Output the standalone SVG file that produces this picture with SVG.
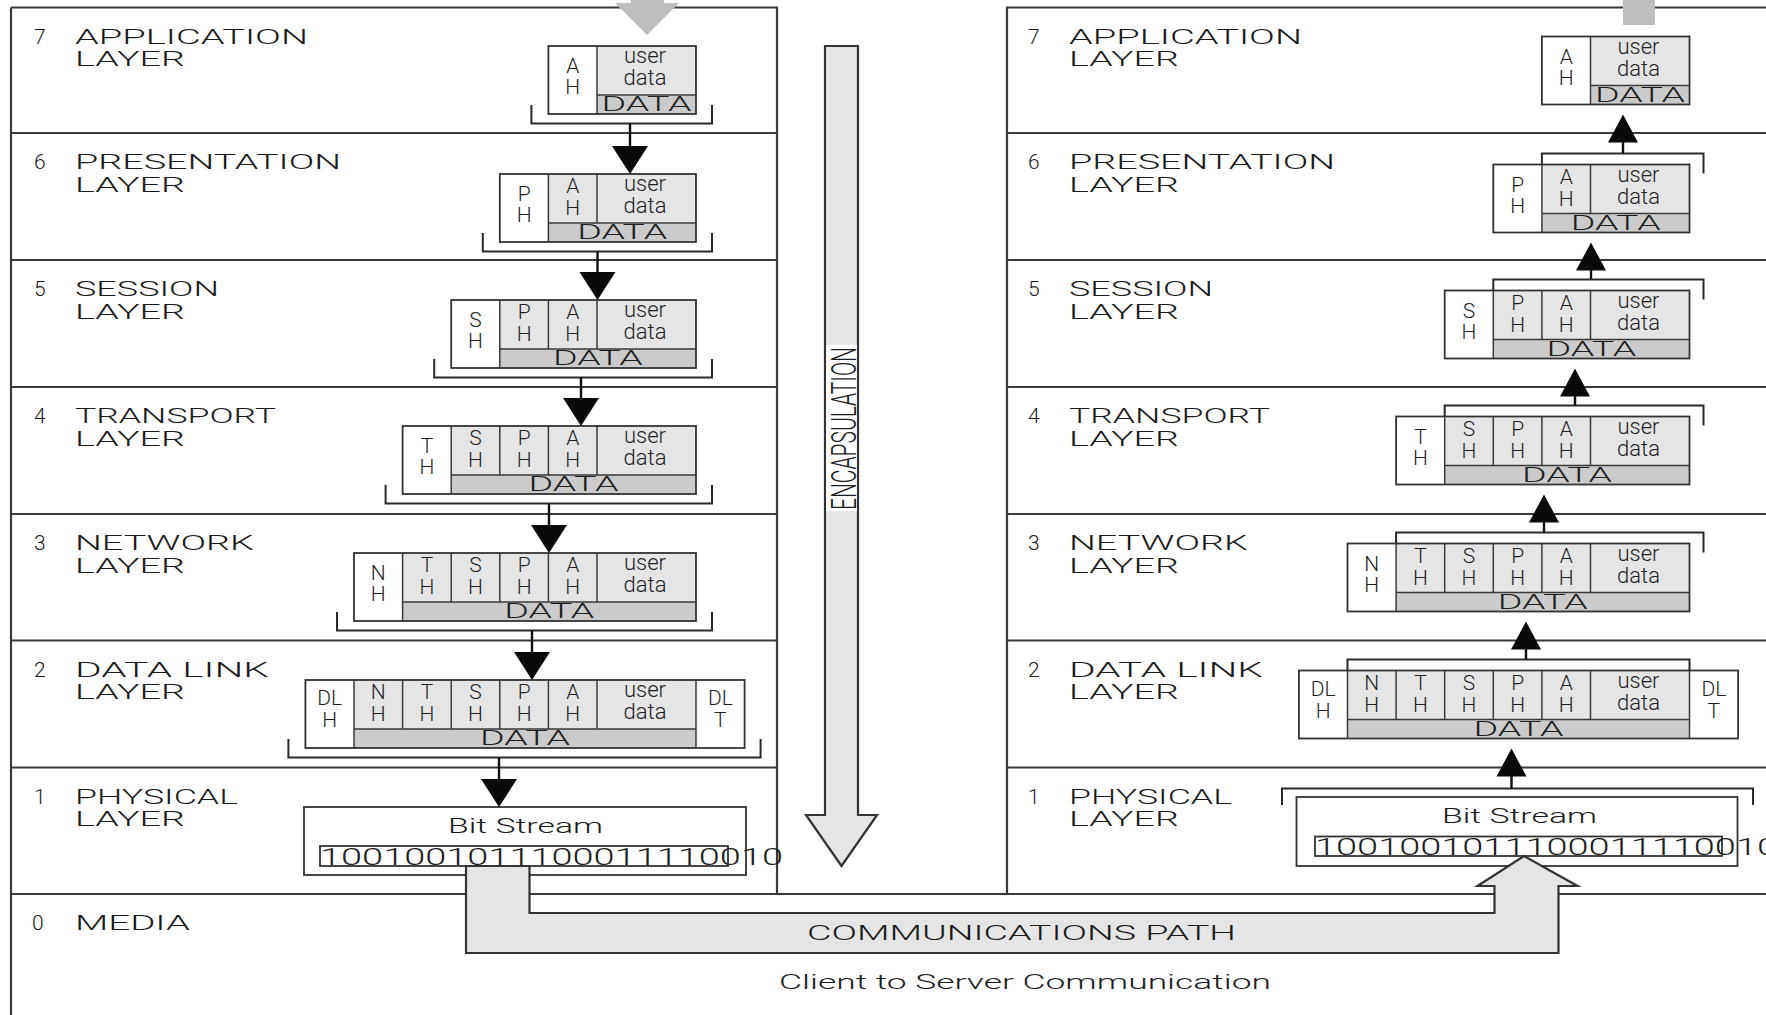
<svg xmlns="http://www.w3.org/2000/svg" width="1766" height="1015" viewBox="0 0 1766 1015">
<defs>
<style>
.frame{fill:none;stroke:#3a3a3a;stroke-width:2.2}
.wh{fill:#ffffff}
.lt{fill:#e5e5e5}
.dk{fill:#cbcbcb}
.cell{fill:none;stroke:#3a3a3a;stroke-width:1.5}
.box{fill:none;stroke:#333333;stroke-width:1.8}
.br{fill:none;stroke:#2a2a2a;stroke-width:2}
.stem{fill:none;stroke:#111111;stroke-width:2.4}
.head{fill:#0a0a0a}
.pipe{fill:#e5e5e5;stroke:#333333;stroke-width:2.2}
.gray{fill:#bdbdbd}
text{font-family:Roboto,"DejaVu Sans","Liberation Sans",sans-serif;font-weight:300;fill:#1e1e1e}
.lbl{font-size:21px;fill:#1a1a1a}
.hd{font-size:21px;text-anchor:middle}
.ud{font-size:22px;text-anchor:middle}
.dt{font-size:20px;text-anchor:middle}
.bits{font-size:24px}
</style>
</defs>
<rect width="1766" height="1015" fill="#ffffff"/>

<!-- client stack frame -->
<g id="client-frame">
<path class="frame" d="M11 7.5V1015M11 7.5H777V894M11 133H777M11 260H777M11 387H777M11 514H777M11 640.5H777M11 767.5H777M11 894H1766"/>
</g>
<!-- server stack frame -->
<g id="server-frame">
<path class="frame" d="M1007 894V7.5H1766M1007 133H1766M1007 260H1766M1007 387H1766M1007 514H1766M1007 640.5H1766M1007 767.5H1766"/>
</g>

<!-- incoming / outgoing flow stubs at the top edge -->
<g id="flow-in">
<polygon class="gray" points="631,-6 664,-6 664,3 679,3 647,35 615,3 631,3"/>
</g>
<g id="flow-out">
<rect class="gray" x="1623" y="0" width="32" height="25"/>
</g>

<!-- ===== client side ===== -->
<g id="client-l7">
<text class="lbl" x="34" y="43.5">7</text>
<text class="lbl" x="75" y="43.5" textLength="233" lengthAdjust="spacingAndGlyphs">APPLICATION</text>
<text class="lbl" x="75" y="66" textLength="110" lengthAdjust="spacingAndGlyphs">LAYER</text>
<rect class="wh" x="548.4" y="46" width="147.6" height="68"/>
<rect class="lt" x="597" y="46" width="99" height="49"/>
<rect class="dk" x="597" y="95" width="99" height="19"/>
<path class="cell" d="M597 46V114M597 95H696"/>
<rect class="box" x="548.4" y="46" width="147.6" height="68"/>
<text class="hd" x="572.7" y="73">A<tspan x="572.7" dy="21">H</tspan></text>
<text class="ud" x="645" y="63">user<tspan x="645" dy="22">data</tspan></text>
<text class="dt" x="646.5" y="111" textLength="90" lengthAdjust="spacingAndGlyphs">DATA</text>
<path class="br" d="M531.4 105V123.5H712V105"/>
</g>

<g id="client-l6">
<text class="lbl" x="34" y="169">6</text>
<text class="lbl" x="75" y="169" textLength="266" lengthAdjust="spacingAndGlyphs">PRESENTATION</text>
<text class="lbl" x="75" y="191.5" textLength="110" lengthAdjust="spacingAndGlyphs">LAYER</text>
<rect class="wh" x="499.8" y="174" width="196.2" height="68"/>
<rect class="lt" x="548.4" y="174" width="147.6" height="49"/>
<rect class="dk" x="548.4" y="223" width="147.6" height="19"/>
<path class="cell" d="M548.4 174V242M597 174V223M548.4 223H696"/>
<rect class="box" x="499.8" y="174" width="196.2" height="68"/>
<text class="hd" x="524.1" y="201">P<tspan x="524.1" dy="21">H</tspan></text>
<text class="hd" x="572.7" y="193">A<tspan x="572.7" dy="22">H</tspan></text>
<text class="ud" x="645" y="191">user<tspan x="645" dy="22">data</tspan></text>
<text class="dt" x="622.2" y="239" textLength="90" lengthAdjust="spacingAndGlyphs">DATA</text>
<path class="br" d="M482.8 233V251.5H712V233"/>
</g>

<g id="client-l5">
<text class="lbl" x="34" y="296">5</text>
<text class="lbl" x="75" y="296" textLength="144" lengthAdjust="spacingAndGlyphs">SESSION</text>
<text class="lbl" x="75" y="318.5" textLength="110" lengthAdjust="spacingAndGlyphs">LAYER</text>
<rect class="wh" x="451.2" y="300" width="244.8" height="68"/>
<rect class="lt" x="499.8" y="300" width="196.2" height="49"/>
<rect class="dk" x="499.8" y="349" width="196.2" height="19"/>
<path class="cell" d="M499.8 300V368M548.4 300V349M597 300V349M499.8 349H696"/>
<rect class="box" x="451.2" y="300" width="244.8" height="68"/>
<text class="hd" x="475.5" y="327">S<tspan x="475.5" dy="21">H</tspan></text>
<text class="hd" x="524.1" y="319">P<tspan x="524.1" dy="22">H</tspan></text>
<text class="hd" x="572.7" y="319">A<tspan x="572.7" dy="22">H</tspan></text>
<text class="ud" x="645" y="317">user<tspan x="645" dy="22">data</tspan></text>
<text class="dt" x="597.9" y="365" textLength="90" lengthAdjust="spacingAndGlyphs">DATA</text>
<path class="br" d="M434.2 359V377.5H712V359"/>
</g>

<g id="client-l4">
<text class="lbl" x="34" y="423">4</text>
<text class="lbl" x="75" y="423" textLength="201" lengthAdjust="spacingAndGlyphs">TRANSPORT</text>
<text class="lbl" x="75" y="445.5" textLength="110" lengthAdjust="spacingAndGlyphs">LAYER</text>
<rect class="wh" x="402.6" y="426" width="293.4" height="68"/>
<rect class="lt" x="451.2" y="426" width="244.8" height="49"/>
<rect class="dk" x="451.2" y="475" width="244.8" height="19"/>
<path class="cell" d="M451.2 426V494M499.8 426V475M548.4 426V475M597 426V475M451.2 475H696"/>
<rect class="box" x="402.6" y="426" width="293.4" height="68"/>
<text class="hd" x="426.9" y="453">T<tspan x="426.9" dy="21">H</tspan></text>
<text class="hd" x="475.5" y="445">S<tspan x="475.5" dy="22">H</tspan></text>
<text class="hd" x="524.1" y="445">P<tspan x="524.1" dy="22">H</tspan></text>
<text class="hd" x="572.7" y="445">A<tspan x="572.7" dy="22">H</tspan></text>
<text class="ud" x="645" y="443">user<tspan x="645" dy="22">data</tspan></text>
<text class="dt" x="573.6" y="491" textLength="90" lengthAdjust="spacingAndGlyphs">DATA</text>
<path class="br" d="M385.6 485V503.5H712V485"/>
</g>

<g id="client-l3">
<text class="lbl" x="34" y="550">3</text>
<text class="lbl" x="75" y="550" textLength="179" lengthAdjust="spacingAndGlyphs">NETWORK</text>
<text class="lbl" x="75" y="572.5" textLength="110" lengthAdjust="spacingAndGlyphs">LAYER</text>
<rect class="wh" x="354" y="553" width="342" height="68"/>
<rect class="lt" x="402.6" y="553" width="293.4" height="49"/>
<rect class="dk" x="402.6" y="602" width="293.4" height="19"/>
<path class="cell" d="M402.6 553V621M451.2 553V602M499.8 553V602M548.4 553V602M597 553V602M402.6 602H696"/>
<rect class="box" x="354" y="553" width="342" height="68"/>
<text class="hd" x="378.3" y="580">N<tspan x="378.3" dy="21">H</tspan></text>
<text class="hd" x="426.9" y="572">T<tspan x="426.9" dy="22">H</tspan></text>
<text class="hd" x="475.5" y="572">S<tspan x="475.5" dy="22">H</tspan></text>
<text class="hd" x="524.1" y="572">P<tspan x="524.1" dy="22">H</tspan></text>
<text class="hd" x="572.7" y="572">A<tspan x="572.7" dy="22">H</tspan></text>
<text class="ud" x="645" y="570">user<tspan x="645" dy="22">data</tspan></text>
<text class="dt" x="549.3" y="618" textLength="90" lengthAdjust="spacingAndGlyphs">DATA</text>
<path class="br" d="M337 612V630.5H712V612"/>
</g>

<g id="client-l2">
<text class="lbl" x="34" y="676.5">2</text>
<text class="lbl" x="75" y="676.5" textLength="194" lengthAdjust="spacingAndGlyphs">DATA LINK</text>
<text class="lbl" x="75" y="699" textLength="110" lengthAdjust="spacingAndGlyphs">LAYER</text>
<rect class="wh" x="305.4" y="680" width="439.2" height="68"/>
<rect class="lt" x="354" y="680" width="342" height="49"/>
<rect class="dk" x="354" y="729" width="342" height="19"/>
<path class="cell" d="M354 680V748M402.6 680V729M451.2 680V729M499.8 680V729M548.4 680V729M597 680V729M354 729H696M696 680V748"/>
<rect class="box" x="305.4" y="680" width="439.2" height="68"/>
<text class="hd" x="329.7" y="705">DL<tspan x="329.7" dy="22">H</tspan></text>
<text class="hd" x="378.3" y="699">N<tspan x="378.3" dy="22">H</tspan></text>
<text class="hd" x="426.9" y="699">T<tspan x="426.9" dy="22">H</tspan></text>
<text class="hd" x="475.5" y="699">S<tspan x="475.5" dy="22">H</tspan></text>
<text class="hd" x="524.1" y="699">P<tspan x="524.1" dy="22">H</tspan></text>
<text class="hd" x="572.7" y="699">A<tspan x="572.7" dy="22">H</tspan></text>
<text class="ud" x="645" y="697">user<tspan x="645" dy="22">data</tspan></text>
<text class="hd" x="720.3" y="705">DL<tspan x="720.3" dy="22">T</tspan></text>
<text class="dt" x="525" y="745" textLength="90" lengthAdjust="spacingAndGlyphs">DATA</text>
<path class="br" d="M288.4 739V757.5H760.6V739"/>
</g>

<g id="client-l1">
<text class="lbl" x="34" y="803.5">1</text>
<text class="lbl" x="75" y="803.5" textLength="163" lengthAdjust="spacingAndGlyphs">PHYSICAL</text>
<text class="lbl" x="75" y="826" textLength="110" lengthAdjust="spacingAndGlyphs">LAYER</text>
<rect class="wh" x="304" y="807" width="442" height="68"/>
<rect class="box" x="304" y="807" width="442" height="68"/>
<text class="lbl" x="448" y="833" textLength="155" lengthAdjust="spacingAndGlyphs">Bit Stream</text>
<rect class="box" x="320" y="846" width="408" height="20"/>
</g>

<g id="media">
<text class="lbl" x="32" y="930">0</text>
<text class="lbl" x="75" y="930" textLength="115" lengthAdjust="spacingAndGlyphs">MEDIA</text>
</g>

<!-- ===== server side ===== -->
<g id="server-l7">
<text class="lbl" x="1028" y="43.5">7</text>
<text class="lbl" x="1069" y="43.5" textLength="233" lengthAdjust="spacingAndGlyphs">APPLICATION</text>
<text class="lbl" x="1069" y="66" textLength="110" lengthAdjust="spacingAndGlyphs">LAYER</text>
<g transform="translate(993.5,-9.5)">
<rect class="wh" x="548.4" y="46" width="147.6" height="68"/>
<rect class="lt" x="597" y="46" width="99" height="49"/>
<rect class="dk" x="597" y="95" width="99" height="19"/>
<path class="cell" d="M597 46V114M597 95H696"/>
<rect class="box" x="548.4" y="46" width="147.6" height="68"/>
<text class="hd" x="572.7" y="73">A<tspan x="572.7" dy="21">H</tspan></text>
<text class="ud" x="645" y="63">user<tspan x="645" dy="22">data</tspan></text>
<text class="dt" x="646.5" y="111" textLength="90" lengthAdjust="spacingAndGlyphs">DATA</text>
</g>
</g>

<g id="server-l6">
<text class="lbl" x="1028" y="169">6</text>
<text class="lbl" x="1069" y="169" textLength="266" lengthAdjust="spacingAndGlyphs">PRESENTATION</text>
<text class="lbl" x="1069" y="191.5" textLength="110" lengthAdjust="spacingAndGlyphs">LAYER</text>
<g transform="translate(993.5,-9.5)">
<rect class="wh" x="499.8" y="174" width="196.2" height="68"/>
<rect class="lt" x="548.4" y="174" width="147.6" height="49"/>
<rect class="dk" x="548.4" y="223" width="147.6" height="19"/>
<path class="cell" d="M548.4 174V242M597 174V223M548.4 223H696"/>
<rect class="box" x="499.8" y="174" width="196.2" height="68"/>
<text class="hd" x="524.1" y="201">P<tspan x="524.1" dy="21">H</tspan></text>
<text class="hd" x="572.7" y="193">A<tspan x="572.7" dy="22">H</tspan></text>
<text class="ud" x="645" y="191">user<tspan x="645" dy="22">data</tspan></text>
<text class="dt" x="622.2" y="239" textLength="90" lengthAdjust="spacingAndGlyphs">DATA</text>
<path class="br" d="M548.4 174V163H710V183"/>
</g>
</g>

<g id="server-l5">
<text class="lbl" x="1028" y="296">5</text>
<text class="lbl" x="1069" y="296" textLength="144" lengthAdjust="spacingAndGlyphs">SESSION</text>
<text class="lbl" x="1069" y="318.5" textLength="110" lengthAdjust="spacingAndGlyphs">LAYER</text>
<g transform="translate(993.5,-9.5)">
<rect class="wh" x="451.2" y="300" width="244.8" height="68"/>
<rect class="lt" x="499.8" y="300" width="196.2" height="49"/>
<rect class="dk" x="499.8" y="349" width="196.2" height="19"/>
<path class="cell" d="M499.8 300V368M548.4 300V349M597 300V349M499.8 349H696"/>
<rect class="box" x="451.2" y="300" width="244.8" height="68"/>
<text class="hd" x="475.5" y="327">S<tspan x="475.5" dy="21">H</tspan></text>
<text class="hd" x="524.1" y="319">P<tspan x="524.1" dy="22">H</tspan></text>
<text class="hd" x="572.7" y="319">A<tspan x="572.7" dy="22">H</tspan></text>
<text class="ud" x="645" y="317">user<tspan x="645" dy="22">data</tspan></text>
<text class="dt" x="597.9" y="365" textLength="90" lengthAdjust="spacingAndGlyphs">DATA</text>
<path class="br" d="M499.8 300V289H710V309"/>
</g>
</g>

<g id="server-l4">
<text class="lbl" x="1028" y="423">4</text>
<text class="lbl" x="1069" y="423" textLength="201" lengthAdjust="spacingAndGlyphs">TRANSPORT</text>
<text class="lbl" x="1069" y="445.5" textLength="110" lengthAdjust="spacingAndGlyphs">LAYER</text>
<g transform="translate(993.5,-9.5)">
<rect class="wh" x="402.6" y="426" width="293.4" height="68"/>
<rect class="lt" x="451.2" y="426" width="244.8" height="49"/>
<rect class="dk" x="451.2" y="475" width="244.8" height="19"/>
<path class="cell" d="M451.2 426V494M499.8 426V475M548.4 426V475M597 426V475M451.2 475H696"/>
<rect class="box" x="402.6" y="426" width="293.4" height="68"/>
<text class="hd" x="426.9" y="453">T<tspan x="426.9" dy="21">H</tspan></text>
<text class="hd" x="475.5" y="445">S<tspan x="475.5" dy="22">H</tspan></text>
<text class="hd" x="524.1" y="445">P<tspan x="524.1" dy="22">H</tspan></text>
<text class="hd" x="572.7" y="445">A<tspan x="572.7" dy="22">H</tspan></text>
<text class="ud" x="645" y="443">user<tspan x="645" dy="22">data</tspan></text>
<text class="dt" x="573.6" y="491" textLength="90" lengthAdjust="spacingAndGlyphs">DATA</text>
<path class="br" d="M451.2 426V415H710V435"/>
</g>
</g>

<g id="server-l3">
<text class="lbl" x="1028" y="550">3</text>
<text class="lbl" x="1069" y="550" textLength="179" lengthAdjust="spacingAndGlyphs">NETWORK</text>
<text class="lbl" x="1069" y="572.5" textLength="110" lengthAdjust="spacingAndGlyphs">LAYER</text>
<g transform="translate(993.5,-9.5)">
<rect class="wh" x="354" y="553" width="342" height="68"/>
<rect class="lt" x="402.6" y="553" width="293.4" height="49"/>
<rect class="dk" x="402.6" y="602" width="293.4" height="19"/>
<path class="cell" d="M402.6 553V621M451.2 553V602M499.8 553V602M548.4 553V602M597 553V602M402.6 602H696"/>
<rect class="box" x="354" y="553" width="342" height="68"/>
<text class="hd" x="378.3" y="580">N<tspan x="378.3" dy="21">H</tspan></text>
<text class="hd" x="426.9" y="572">T<tspan x="426.9" dy="22">H</tspan></text>
<text class="hd" x="475.5" y="572">S<tspan x="475.5" dy="22">H</tspan></text>
<text class="hd" x="524.1" y="572">P<tspan x="524.1" dy="22">H</tspan></text>
<text class="hd" x="572.7" y="572">A<tspan x="572.7" dy="22">H</tspan></text>
<text class="ud" x="645" y="570">user<tspan x="645" dy="22">data</tspan></text>
<text class="dt" x="549.3" y="618" textLength="90" lengthAdjust="spacingAndGlyphs">DATA</text>
<path class="br" d="M402.6 553V542H710V562"/>
</g>
</g>

<g id="server-l2">
<text class="lbl" x="1028" y="676.5">2</text>
<text class="lbl" x="1069" y="676.5" textLength="194" lengthAdjust="spacingAndGlyphs">DATA LINK</text>
<text class="lbl" x="1069" y="699" textLength="110" lengthAdjust="spacingAndGlyphs">LAYER</text>
<g transform="translate(993.5,-9.5)">
<rect class="wh" x="305.4" y="680" width="439.2" height="68"/>
<rect class="lt" x="354" y="680" width="342" height="49"/>
<rect class="dk" x="354" y="729" width="342" height="19"/>
<path class="cell" d="M354 680V748M402.6 680V729M451.2 680V729M499.8 680V729M548.4 680V729M597 680V729M354 729H696M696 680V748"/>
<rect class="box" x="305.4" y="680" width="439.2" height="68"/>
<text class="hd" x="329.7" y="705">DL<tspan x="329.7" dy="22">H</tspan></text>
<text class="hd" x="378.3" y="699">N<tspan x="378.3" dy="22">H</tspan></text>
<text class="hd" x="426.9" y="699">T<tspan x="426.9" dy="22">H</tspan></text>
<text class="hd" x="475.5" y="699">S<tspan x="475.5" dy="22">H</tspan></text>
<text class="hd" x="524.1" y="699">P<tspan x="524.1" dy="22">H</tspan></text>
<text class="hd" x="572.7" y="699">A<tspan x="572.7" dy="22">H</tspan></text>
<text class="ud" x="645" y="697">user<tspan x="645" dy="22">data</tspan></text>
<text class="hd" x="720.3" y="705">DL<tspan x="720.3" dy="22">T</tspan></text>
<text class="dt" x="525" y="745" textLength="90" lengthAdjust="spacingAndGlyphs">DATA</text>
<path class="br" d="M354 680V669H696V680"/>
</g>
</g>

<g id="server-l1">
<text class="lbl" x="1028" y="803.5">1</text>
<text class="lbl" x="1069" y="803.5" textLength="163" lengthAdjust="spacingAndGlyphs">PHYSICAL</text>
<text class="lbl" x="1069" y="826" textLength="110" lengthAdjust="spacingAndGlyphs">LAYER</text>
<path class="br" d="M1282 805V788.5H1753V805"/>
<rect class="wh" x="1296.5" y="797" width="441" height="69"/>
<rect class="box" x="1296.5" y="797" width="441" height="69"/>
<text class="lbl" x="1442" y="823" textLength="155" lengthAdjust="spacingAndGlyphs">Bit Stream</text>
<rect class="box" x="1315" y="836.5" width="407" height="19.5"/>
</g>

<!-- encapsulation direction -->
<g id="encapsulation">
<polygon class="pipe" points="825,46 858,46 858,815 877,815 841.5,866 806,815 825,815"/>
<rect class="wh" x="826.2" y="345" width="30.6" height="166"/>
<text x="856" y="510" transform="rotate(-90 856 510)" font-size="35" textLength="163" lengthAdjust="spacingAndGlyphs">ENCAPSULATION</text>
</g>

<!-- media path between the two stacks -->
<g id="communications-path">
<polygon class="pipe" points="466,866 466,953 1558.5,953 1558.5,886 1577.5,886 1524,856 1477.5,886 1494.5,886 1494.5,913 529.5,913 529.5,866"/>
<text class="lbl" x="807" y="940" textLength="429" lengthAdjust="spacingAndGlyphs">COMMUNICATIONS PATH</text>
</g>

<g id="bitstreams">
<text class="bits" x="320" y="864.5" textLength="463" lengthAdjust="spacingAndGlyphs">1001001011100011110010</text>
<text class="bits" x="1315" y="855" textLength="463" lengthAdjust="spacingAndGlyphs">1001001011100011110010</text>
</g>

<g id="caption">
<text x="779" y="989" font-size="21" textLength="492" lengthAdjust="spacingAndGlyphs">Client to Server Communication</text>
</g>

<!-- layer-to-layer arrows -->
<g id="connectors">
<path class="stem" d="M630 123.5V148M597.5 251.5V274M581 377.5V400M549 503.5V527M532 630.5V654M499 757.5V781"/>
<polygon class="head" points="612,146 648,146 630,174"/>
<polygon class="head" points="579.5,272 615.5,272 597.5,300"/>
<polygon class="head" points="563,398 599,398 581,426"/>
<polygon class="head" points="531,525 567,525 549,553"/>
<polygon class="head" points="514,652 550,652 532,680"/>
<polygon class="head" points="481,779 517,779 499,807"/>
<path class="stem" d="M1623 153.5V140M1591 279.5V268M1575 405.5V394M1544 532.5V520M1526 659.5V647M1511.5 788.5V774"/>
<polygon class="head" points="1608,142.5 1638,142.5 1623,114.5"/>
<polygon class="head" points="1576,270.5 1606,270.5 1591,242.5"/>
<polygon class="head" points="1560,396.5 1590,396.5 1575,368.5"/>
<polygon class="head" points="1529,522.5 1559,522.5 1544,494.5"/>
<polygon class="head" points="1511,649.5 1541,649.5 1526,621.5"/>
<polygon class="head" points="1496.5,776.5 1526.5,776.5 1511.5,748.5"/>
</g>
</svg>
